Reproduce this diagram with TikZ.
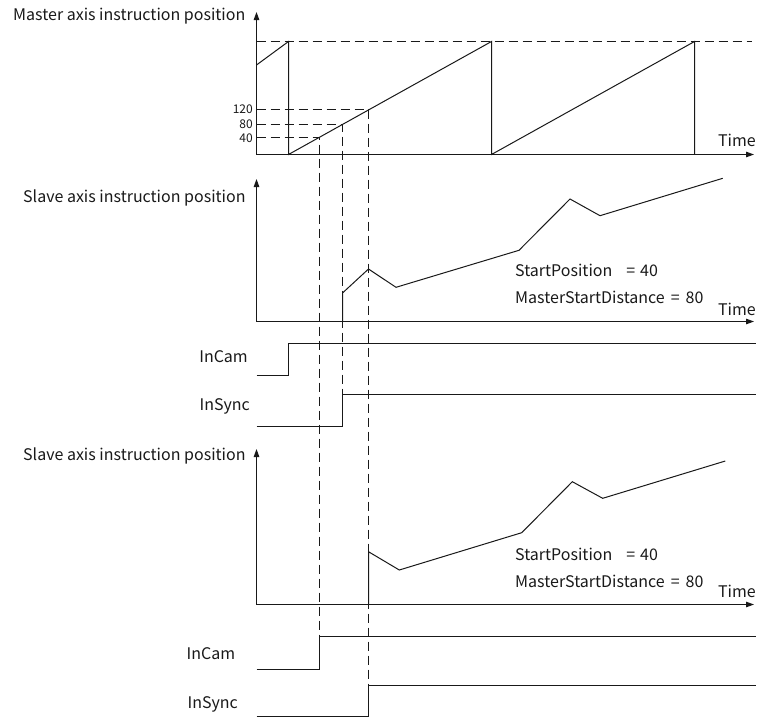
\documentclass[tikz,border=0pt]{standalone}
\usepackage{fontspec}
\setmainfont{Noto Sans CJK SC}
\usetikzlibrary{arrows.meta}
\begin{document}
\begin{tikzpicture}[x=1pt,y=-1pt,
  ln/.style={line width=1pt, black!90},
  dsh/.style={line width=1pt, black!90, dash pattern=on 9pt off 5pt},
  ax/.style={line width=1pt, black!90, -{Triangle[length=8pt,width=5.5pt]}},
  lbl/.style={font=\fontsize{16}{18}\selectfont, inner sep=0pt, text=black!90},
  num/.style={font=\fontsize{12}{14}\selectfont, inner sep=0pt, text=black!90},
]
\useasboundingbox (0,0) rectangle (760,718);

% ---------- top chart: master ----------
\coordinate (O1) at (256.5,154.5);
\coordinate (Y1) at (256.5,12);
\coordinate (X1) at (754,154.5);
\coordinate (T1a) at (256.5,41.5);
\coordinate (T1b) at (752,41.5);
% level markers
\coordinate (L40a) at (256.5,137.5);   \coordinate (L40b) at (319.5,137.5);
\coordinate (L80a) at (256.5,124.5);   \coordinate (L80b) at (342.5,124.5);
\coordinate (L120a) at (256.5,109.5); \coordinate (L120b) at (368.5,109.5);
% dashed ends below
\coordinate (D40) at (319.5,636.5);
\coordinate (D80) at (342.5,394.5);
\coordinate (D120) at (368.5,685.5);

\draw[dsh] (T1a) -- (T1b);
\draw[dsh] (L40a) -- (L40b) -- (D40);
\draw[dsh] (L80a) -- (L80b) -- (D80);
\draw[dsh] (L120a) -- (L120b) -- (D120);

\draw[ax] (O1) -- (Y1);
\draw[ax] (O1) -- (X1);
\draw[ln] (256.5,65) -- (288.5,41.5) -- (288.5,154.5) -- (491.5,41.5) -- (491.5,154.5)
          -- (694.5,41.5) -- (694.5,154.5);

\node[lbl, anchor=base west] (tm) at (13,20.7) {Master axis instruction position};
\node[num, anchor=east] (n120) at (253,109.5) {120};
\node[num, anchor=east] (n80) at (253,124.5) {80};
\node[num, anchor=east] (n40) at (253,138) {40};
\node[lbl, anchor=base east] (time1) at (756,146.7) {Time};

% ---------- middle chart: slave (case 1) ----------
\coordinate (O2) at (256.5,321.5);
\coordinate (Y2) at (256.5,179);
\coordinate (X2) at (754,321.5);
\draw[ax] (O2) -- (Y2);
\draw[ax] (O2) -- (X2);
\draw[ln] (342.5,321.5) -- (342.5,293) -- (368.5,269) -- (396,287.3) -- (519,250.3)
          -- (570,199) -- (600,215.7) -- (722.7,178.3);
\node[lbl, anchor=base west] (ts2) at (23,202.7) {Slave axis instruction position};
\node[lbl, anchor=base west] (sp2) at (515,276.7) {StartPosition\hspace{14pt}=\hspace{5pt}40};
\node[lbl, anchor=base west] (ms2) at (515,303.3) {MasterStartDistance\hspace{6pt}=\hspace{6pt}80};
\node[lbl, anchor=base east] (time2) at (756,315) {Time};

% InCam / InSync (case 1)
\draw[ln] (256.5,375.5) -- (288.5,375.5) -- (288.5,343.5) -- (756,343.5);
\draw[ln] (256.5,426.5) -- (342.5,426.5) -- (342.5,394.5) -- (756,394.5);
\node[lbl, anchor=base east] (ic2) at (248,362.7) {InCam};
\node[lbl, anchor=base east] (is2) at (250,410.7) {InSync};

% ---------- bottom chart: slave (case 2) ----------
\coordinate (O3) at (256.5,604.5);
\coordinate (Y3) at (256.5,449);
\coordinate (X3) at (754,604.5);
\draw[ax] (O3) -- (Y3);
\draw[ax] (O3) -- (X3);
\draw[ln] (368.5,604.5) -- (368.5,551.7) -- (399.3,570) -- (521.7,532.7) -- (572.3,481.7)
          -- (602.7,498.3) -- (725.3,461);
\node[lbl, anchor=base west] (ts3) at (23,460.7) {Slave axis instruction position};
\node[lbl, anchor=base west] (sp3) at (515,560) {StartPosition\hspace{14pt}=\hspace{5pt}40};
\node[lbl, anchor=base west] (ms3) at (515,587.7) {MasterStartDistance\hspace{6pt}=\hspace{6pt}80};
\node[lbl, anchor=base east] (time3) at (756,597.7) {Time};

% InCam / InSync (case 2)
\draw[ln] (256.5,669.5) -- (319.5,669.5) -- (319.5,636.5) -- (756,636.5);
\draw[ln] (256.5,716.5) -- (368.5,716.5) -- (368.5,685.5) -- (756,685.5);
\node[lbl, anchor=base east] (ic3) at (235.3,659.3) {InCam};
\node[lbl, anchor=base east] (is3) at (238,708.3) {InSync};
\end{tikzpicture}
\end{document}
